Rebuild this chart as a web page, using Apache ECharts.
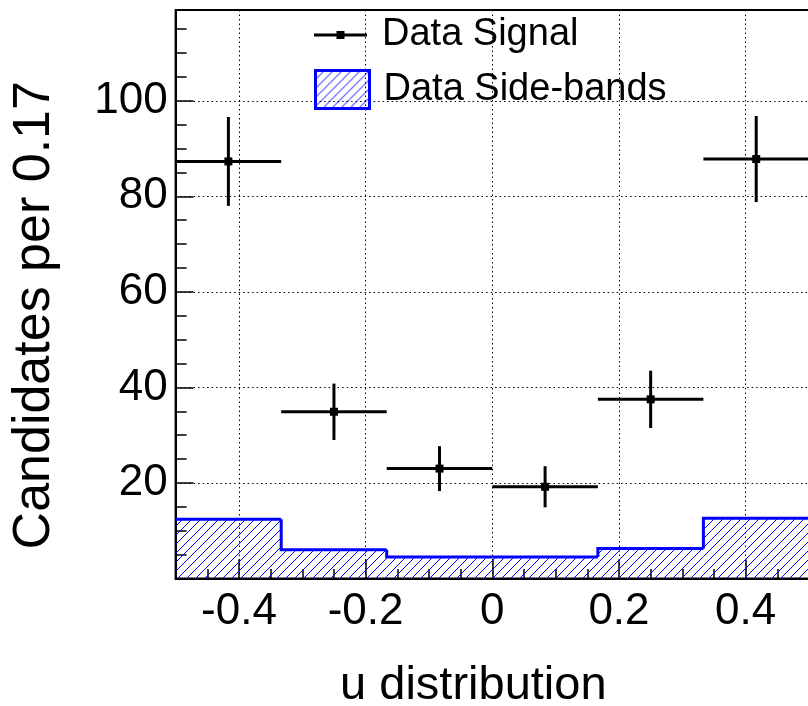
<!DOCTYPE html>
<html><head><meta charset="utf-8">
<script src="https://cdn.jsdelivr.net/npm/echarts@6/dist/echarts.min.js"></script>
<style>html,body{margin:0;padding:0;background:#fff}#c{width:808px;height:706px}</style>
</head><body><div id="c"></div>
<script>
// ---- data ----
const binEdges = [-0.5, -0.3333, -0.1667, 0, 0.1667, 0.3333, 0.5];
const signalValues = [87.3, 34.9, 23.0, 19.2, 37.5, 87.8];
const signalErrors = [9.3, 5.9, 4.7, 4.3, 6.0, 9.0];
const sidebandValues = [12.4, 6.0, 4.5, 4.5, 6.3, 12.6];
const xTickValues = [-0.4, -0.2, 0, 0.2, 0.4];
const yTickValues = [20, 40, 60, 80, 100];
const seriesNames = ['Data Signal', 'Data Side-bands'];
const xTitle = 'u distribution';
const yTitle = 'Candidates per 0.17';

const FONT = '"Liberation Sans", Arial, Helvetica, sans-serif';
const BLUE = '#0000ff';

// hatch pattern
const pc = document.createElement('canvas');
pc.width = 9; pc.height = 9;
const g = pc.getContext('2d');
g.strokeStyle = BLUE; g.lineWidth = 1;
g.beginPath();
g.moveTo(-1, 10); g.lineTo(10, -1);
g.moveTo(-2, 2); g.lineTo(2, -2);
g.moveTo(7, 11); g.lineTo(11, 7);
g.stroke();
const hatch = { image: pc, repeat: 'repeat' };

const signalData = signalValues.map((v, i) => [
  (binEdges[i] + binEdges[i + 1]) / 2, v, signalErrors[i], binEdges[i], binEdges[i + 1]
]);
const sidebandData = sidebandValues.map((v, i) => [
  binEdges[i], binEdges[i + 1], v, i > 0 ? sidebandValues[i - 1] : v
]);

const chart = echarts.init(document.getElementById('c'), null, { renderer: 'canvas' });
chart.setOption({
  animation: false,
  backgroundColor: '#fff',
  textStyle: { fontFamily: FONT, color: '#000' },
  grid: { left: 175.6, right: -1, top: 10, bottom: 127.5, show: true, borderColor: '#000', borderWidth: 2,
    backgroundColor: 'transparent', containLabel: false, outerBoundsMode: 'none' },
  legend: [{
    left: 314, top: 16, padding: 0, selectedMode: false,
    itemWidth: 53, itemHeight: 10,
    textStyle: { fontSize: 38, color: '#000', fontFamily: FONT, padding: [0, 0, 0, 10] },
    data: [{ name: seriesNames[0], icon: 'path://M0,3.5 H53 V6.5 H0 Z M22.5,1 H30.5 V9 H22.5 Z', itemStyle: { color: '#000', borderWidth: 0 } }]
  }, {
    left: 314, top: 69, padding: 0, selectedMode: false,
    itemWidth: 54, itemHeight: 38,
    textStyle: { fontSize: 38, color: '#000', fontFamily: FONT, padding: [0, 0, 0, 9] },
    data: [{ name: seriesNames[1], icon: 'rect', itemStyle: { color: hatch, borderColor: BLUE, borderWidth: 3 } }]
  }],
  xAxis: [{
    type: 'value', min: -0.5, max: 0.5, interval: 0.05,
    axisLine: { show: true, onZero: false, lineStyle: { color: '#000', width: 2 } },
    axisTick: { show: true, inside: true, length: 9.5, lineStyle: { color: '#000', width: 1.5 } },
    axisLabel: { show: false }, splitLine: { show: false },
    name: xTitle, nameLocation: 'middle', nameGap: 84,
    nameTextStyle: { fontSize: 47, color: '#000', fontFamily: FONT, padding: [0, 38, 0, 0] }
  }, {
    type: 'value', min: -0.5, max: 0.5, position: 'bottom',
    axisLine: { show: false, onZero: false },
    axisTick: { show: true, inside: true, length: 19, customValues: xTickValues, lineStyle: { color: '#000', width: 1.5 } },
    axisLabel: { show: true, customValues: xTickValues, fontSize: 44, margin: 11, color: '#000', fontFamily: FONT,
      formatter: v => String(Math.round(v * 10) / 10) },
    splitLine: { show: true, lineStyle: { type: [1.5, 3], color: '#000', width: 1 } }
  }],
  yAxis: [{
    type: 'value', min: 0, max: 119, interval: 5,
    axisLine: { show: true, onZero: false, lineStyle: { color: '#000', width: 2 } },
    axisTick: { show: true, inside: true, length: 11, lineStyle: { color: '#000', width: 1.5 } },
    axisLabel: { show: false }, splitLine: { show: false },
    name: yTitle, nameLocation: 'middle', nameGap: 115,
    nameTextStyle: { fontSize: 52, color: '#000', fontFamily: FONT, padding: [0, 42, 0, 0] }
  }, {
    type: 'value', min: 0, max: 119, position: 'left',
    axisLine: { show: false, onZero: false },
    axisTick: { show: true, inside: true, length: 18, customValues: yTickValues, lineStyle: { color: '#000', width: 1.5 } },
    axisLabel: { show: true, customValues: yTickValues, fontSize: 44, margin: 8, color: '#000', fontFamily: FONT },
    splitLine: { show: true, lineStyle: { type: [1.5, 3], color: '#000', width: 1 } }
  }],
  series: [{
    name: seriesNames[1], type: 'custom', xAxisIndex: 0, yAxisIndex: 0,
    itemStyle: { color: hatch, borderColor: BLUE, borderWidth: 3 },
    encode: { x: [0, 1], y: [2, 3] },
    data: sidebandData,
    renderItem: (params, api) => {
      const x0 = api.value(0), x1 = api.value(1), v = api.value(2), pv = api.value(3);
      const a = api.coord([x0, 0]), b = api.coord([x1, v]), p = api.coord([x0, pv]);
      return { type: 'group', children: [
        { type: 'rect', shape: { x: a[0], y: b[1], width: b[0] - a[0], height: a[1] - b[1] }, style: { fill: hatch } },
        { type: 'polyline', shape: { points: [[a[0], p[1]], [a[0], b[1]], [b[0], b[1]]] },
          style: { stroke: BLUE, lineWidth: 3, fill: null, lineJoin: 'miter' } }
      ] };
    }
  }, {
    name: seriesNames[0], type: 'custom', xAxisIndex: 0, yAxisIndex: 0,
    itemStyle: { color: '#000' },
    encode: { x: [0, 3, 4], y: 1 },
    data: signalData,
    z: 5,
    renderItem: (params, api) => {
      const x = api.value(0), y = api.value(1), e = api.value(2), x0 = api.value(3), x1 = api.value(4);
      const pL = api.coord([x0, y]), pR = api.coord([x1, y]);
      const pT = api.coord([x, y + e]), pB = api.coord([x, y - e]), pC = api.coord([x, y]);
      const st = { stroke: '#000', lineWidth: 3 };
      return { type: 'group', children: [
        { type: 'line', shape: { x1: pL[0], y1: pL[1], x2: pR[0], y2: pR[1] }, style: st },
        { type: 'line', shape: { x1: pT[0], y1: pT[1], x2: pB[0], y2: pB[1] }, style: st },
        { type: 'rect', shape: { x: pC[0] - 4, y: pC[1] - 4, width: 8, height: 8 }, style: { fill: '#000' } }
      ] };
    }
  }]
});
</script></body></html>
